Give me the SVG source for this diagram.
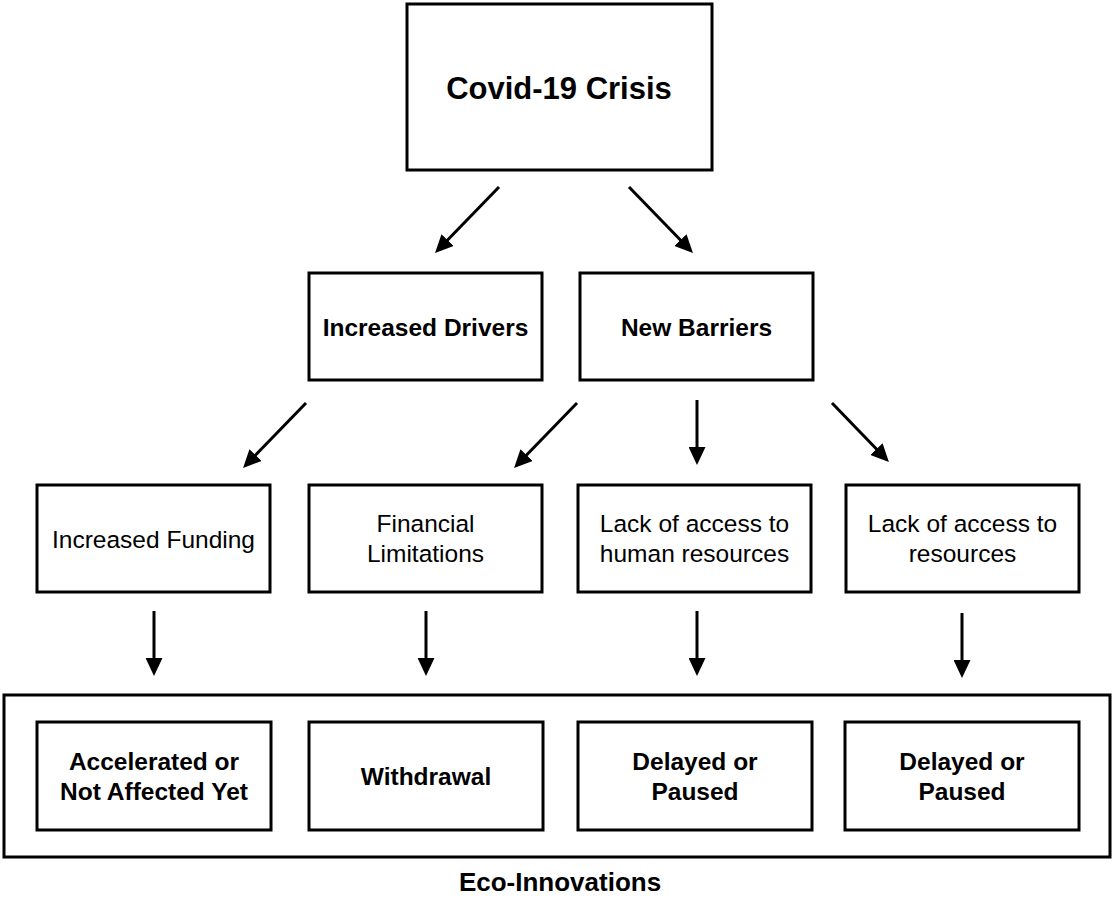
<svg xmlns="http://www.w3.org/2000/svg" width="1113" height="899" viewBox="0 0 1113 899">
  <style>
    .box { fill: #ffffff; stroke: #000000; stroke-width: 3; }
    .t { font-family: "Liberation Sans", Arial, sans-serif; font-size: 24.5px; fill: #000000; text-anchor: middle; }
    .b { font-weight: bold; }
    .big { font-family: "Liberation Sans", Arial, sans-serif; font-size: 31px; font-weight: bold; fill: #000000; text-anchor: middle; }
    .lbl { font-family: "Liberation Sans", Arial, sans-serif; font-size: 26px; font-weight: bold; fill: #000000; text-anchor: middle; }
    .conn line { stroke: #000000; stroke-width: 3; fill: none; marker-end: url(#ah); }
  </style>
  <defs>
    <marker id="ah" viewBox="0 0 18 17" refX="8" refY="8.5" markerWidth="18" markerHeight="17" markerUnits="userSpaceOnUse" orient="auto">
      <path d="M0,0 L18,8.5 L0,17 Z" fill="#000000"/>
    </marker>
  </defs>
  <rect width="1113" height="899" fill="#ffffff"/>

  <g id="covid">
    <rect class="box" x="407" y="4" width="305" height="166"/>
    <text class="big" x="559" y="99">Covid-19 Crisis</text>
  </g>

  <g id="increased-drivers">
    <rect class="box" x="309" y="273" width="233" height="107"/>
    <text class="t b" x="425.5" y="336">Increased Drivers</text>
  </g>
  <g id="new-barriers">
    <rect class="box" x="580" y="273" width="233" height="107"/>
    <text class="t b" x="696.5" y="336">New Barriers</text>
  </g>

  <g id="increased-funding">
    <rect class="box" x="37" y="485" width="233" height="107"/>
    <text class="t" x="153.5" y="548">Increased Funding</text>
  </g>
  <g id="financial-limitations">
    <rect class="box" x="309" y="485" width="233" height="107"/>
    <text class="t" x="425.5" y="532">Financial</text>
    <text class="t" x="425.5" y="562">Limitations</text>
  </g>
  <g id="lack-human">
    <rect class="box" x="578" y="485" width="233" height="107"/>
    <text class="t" x="694.5" y="532">Lack of access to</text>
    <text class="t" x="694.5" y="562">human resources</text>
  </g>
  <g id="lack-resources">
    <rect class="box" x="846" y="485" width="233" height="107"/>
    <text class="t" x="962.5" y="532">Lack of access to</text>
    <text class="t" x="962.5" y="562">resources</text>
  </g>

  <g id="eco-innovations">
    <rect class="box" x="4" y="695" width="1106" height="162"/>
    <text class="lbl" x="560" y="891">Eco-Innovations</text>
  </g>
  <g id="accelerated">
    <rect class="box" x="37" y="722" width="234" height="108"/>
    <text class="t b" x="154" y="770">Accelerated or</text>
    <text class="t b" x="154" y="800">Not Affected Yet</text>
  </g>
  <g id="withdrawal">
    <rect class="box" x="309" y="722" width="234" height="108"/>
    <text class="t b" x="426" y="785">Withdrawal</text>
  </g>
  <g id="delayed-1">
    <rect class="box" x="578" y="722" width="234" height="108"/>
    <text class="t b" x="695" y="770">Delayed or</text>
    <text class="t b" x="695" y="800">Paused</text>
  </g>
  <g id="delayed-2">
    <rect class="box" x="845" y="722" width="234" height="108"/>
    <text class="t b" x="962" y="770">Delayed or</text>
    <text class="t b" x="962" y="800">Paused</text>
  </g>

  <g id="connectors" class="conn">
    <line x1="499" y1="187" x2="442" y2="245.8"/>
    <line x1="629" y1="187" x2="686" y2="245.8"/>
    <line x1="306" y1="403" x2="250" y2="460.8"/>
    <line x1="577" y1="403" x2="521" y2="460.8"/>
    <line x1="697" y1="400" x2="697" y2="455"/>
    <line x1="832" y1="403" x2="882" y2="454.8"/>
    <line x1="154" y1="611" x2="154" y2="666"/>
    <line x1="426" y1="611" x2="426" y2="666"/>
    <line x1="697" y1="611" x2="697" y2="666"/>
    <line x1="962" y1="613" x2="962" y2="668"/>
  </g>
</svg>
